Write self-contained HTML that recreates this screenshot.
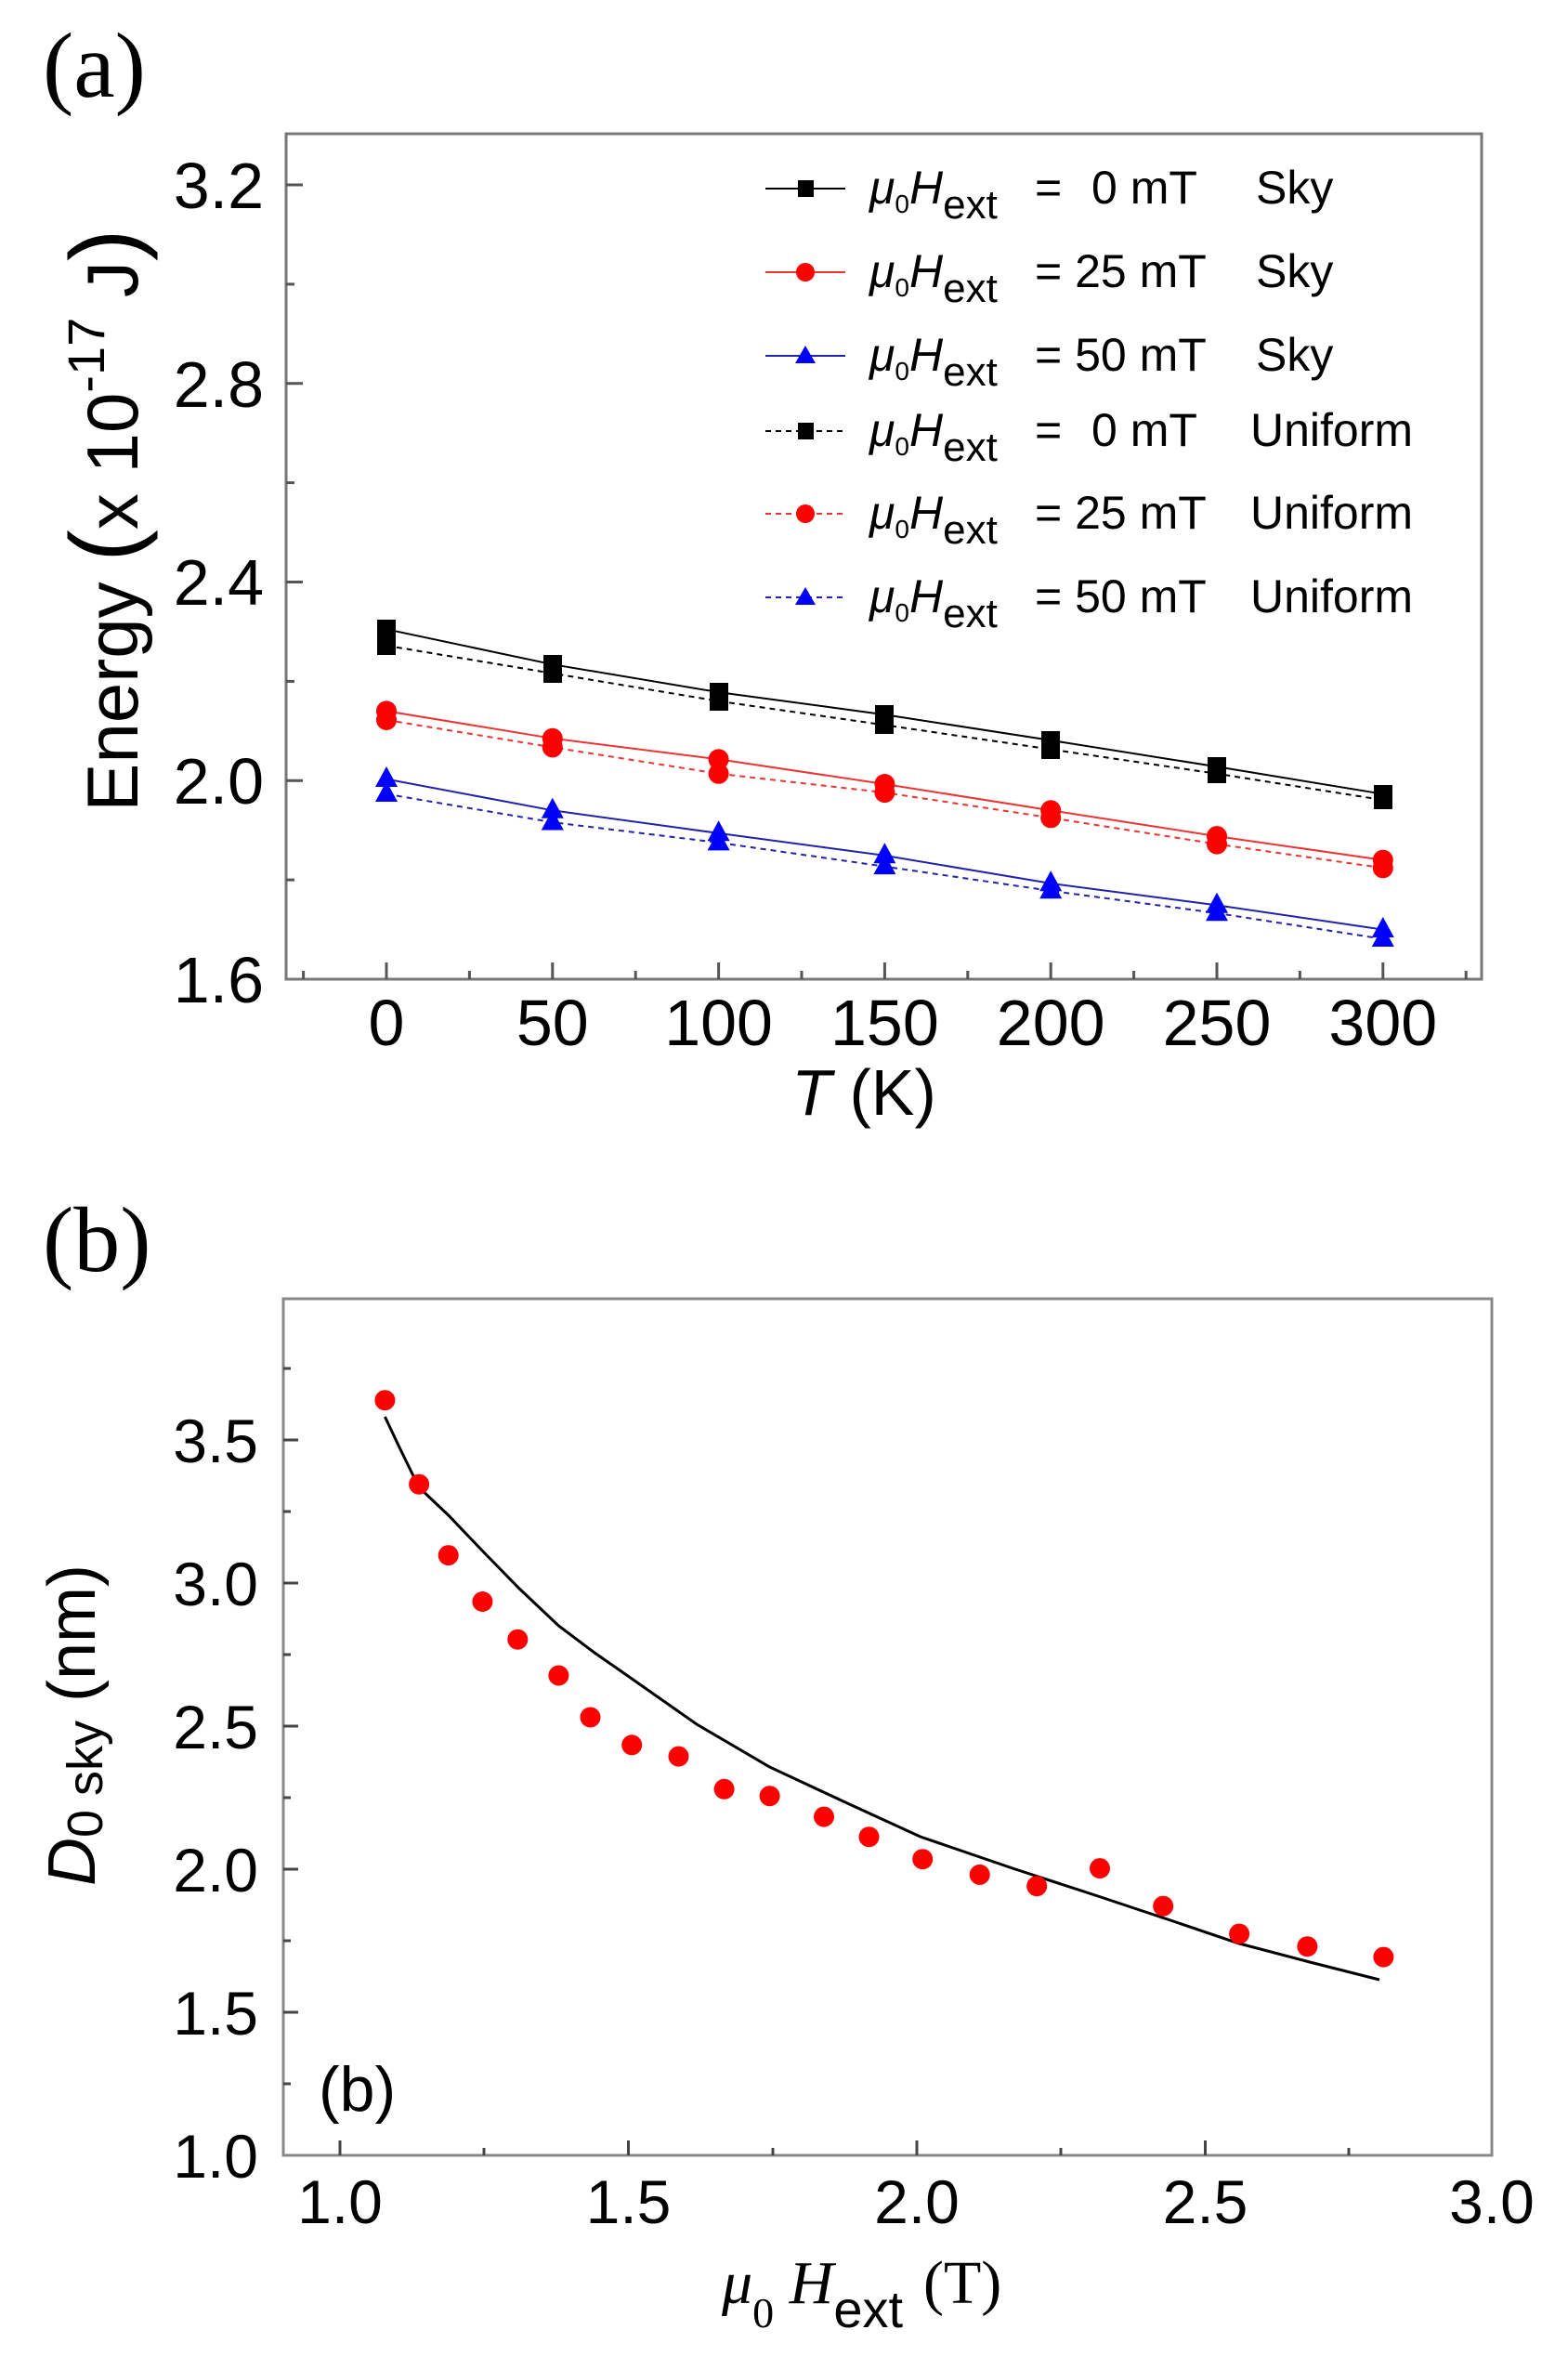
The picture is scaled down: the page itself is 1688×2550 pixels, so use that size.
<!DOCTYPE html>
<html><head><meta charset="utf-8"><style>
html,body{margin:0;padding:0;background:#fff;}
svg{display:block;}
text{font-family:"Liberation Sans",sans-serif;fill:#000;}
.serif{font-family:"Liberation Serif",serif;}
</style></head><body>
<svg width="1688" height="2550" viewBox="0 0 1688 2550" xmlns="http://www.w3.org/2000/svg">
<rect width="1688" height="2550" fill="#fff"/>
<!-- ===== Panel (a) ===== -->
<text class="serif" x="46" y="104" font-size="100">(a)</text>
<rect x="308" y="144" width="1287" height="910" fill="none" stroke="#777" stroke-width="3"/>
<g stroke="#555" stroke-width="3">
<line x1="416" y1="1054" x2="416" y2="1036"/><line x1="594.8" y1="1054" x2="594.8" y2="1036"/>
<line x1="773.6" y1="1054" x2="773.6" y2="1036"/><line x1="952.4" y1="1054" x2="952.4" y2="1036"/>
<line x1="1131.2" y1="1054" x2="1131.2" y2="1036"/><line x1="1310" y1="1054" x2="1310" y2="1036"/>
<line x1="1488.8" y1="1054" x2="1488.8" y2="1036"/>
<line x1="326.6" y1="1054" x2="326.6" y2="1045"/><line x1="505.4" y1="1054" x2="505.4" y2="1045"/>
<line x1="684.2" y1="1054" x2="684.2" y2="1045"/><line x1="863" y1="1054" x2="863" y2="1045"/>
<line x1="1041.8" y1="1054" x2="1041.8" y2="1045"/><line x1="1220.6" y1="1054" x2="1220.6" y2="1045"/>
<line x1="1399.4" y1="1054" x2="1399.4" y2="1045"/><line x1="1578.2" y1="1054" x2="1578.2" y2="1045"/>
<line x1="308" y1="199" x2="326" y2="199"/><line x1="308" y1="412.7" x2="326" y2="412.7"/>
<line x1="308" y1="626.5" x2="326" y2="626.5"/><line x1="308" y1="840.2" x2="326" y2="840.2"/>
<line x1="308" y1="305.9" x2="317" y2="305.9"/><line x1="308" y1="519.6" x2="317" y2="519.6"/>
<line x1="308" y1="733.4" x2="317" y2="733.4"/><line x1="308" y1="947.1" x2="317" y2="947.1"/>
</g>
<g font-size="70" text-anchor="end">
<text x="284" y="224">3.2</text><text x="284" y="438">2.8</text>
<text x="284" y="651">2.4</text><text x="284" y="865">2.0</text><text x="284" y="1079">1.6</text>
</g>
<g font-size="70" text-anchor="middle">
<text x="416" y="1125">0</text><text x="594.8" y="1125">50</text><text x="773.6" y="1125">100</text>
<text x="952.4" y="1125">150</text><text x="1131.2" y="1125">200</text><text x="1310" y="1125">250</text>
<text x="1488.8" y="1125">300</text>
</g>
<text x="930" y="1200" font-size="70" text-anchor="middle"><tspan font-style="italic">T</tspan> (K)</text>
<text transform="translate(148,560) rotate(-90)" text-anchor="middle" font-size="78">Energy <tspan font-size="104">(</tspan>x 10<tspan font-size="56" dy="-36">-17</tspan><tspan dy="36"> J</tspan><tspan font-size="104">)</tspan></text>

<!-- series lines -->
<g fill="none" stroke-width="2">
<polyline stroke="#000" points="416,677.3 594.8,715.2 773.6,745.1 952.4,769.2 1131.2,796.9 1310,825.3 1488.8,854.7"/>
<polyline stroke="#000" stroke-dasharray="6,5" points="416,694.9 594.8,724.8 773.6,754.7 952.4,780.4 1131.2,806.6 1310,832.8 1488.8,861.1"/>
<polyline stroke="#e33" points="416,765.4 594.8,794.8 773.6,817.3 952.4,844 1131.2,872.3 1310,900.1 1488.8,925.7"/>
<polyline stroke="#e33" stroke-dasharray="6,5" points="416,775 594.8,804.4 773.6,832.8 952.4,853.1 1131.2,880.3 1310,908.6 1488.8,934.3"/>
<polyline stroke="#22a" points="416,838.6 594.8,872.3 773.6,896.9 952.4,920.9 1131.2,950.9 1310,974.4 1488.8,1000.6"/>
<polyline stroke="#22a" stroke-dasharray="6,5" points="416,854.7 594.8,885.1 773.6,907 952.4,932.7 1131.2,958.9 1310,982.9 1488.8,1010.7"/>
</g>
<!-- markers -->
<g fill="#000">
<rect x="406" y="667" width="20" height="20"/><rect x="585" y="705" width="20" height="20"/><rect x="764" y="735" width="20" height="20"/><rect x="942" y="759" width="20" height="20"/><rect x="1121" y="787" width="20" height="20"/><rect x="1300" y="815" width="20" height="20"/><rect x="1479" y="845" width="20" height="20"/>
<rect x="406" y="685" width="20" height="20"/><rect x="585" y="715" width="20" height="20"/><rect x="764" y="745" width="20" height="20"/><rect x="942" y="770" width="20" height="20"/><rect x="1121" y="797" width="20" height="20"/><rect x="1300" y="823" width="20" height="20"/><rect x="1479" y="851" width="20" height="20"/>
</g>
<g fill="#f00">
<circle cx="416" cy="765.4" r="11"/><circle cx="594.8" cy="794.8" r="11"/><circle cx="773.6" cy="817.3" r="11"/><circle cx="952.4" cy="844" r="11"/><circle cx="1131.2" cy="872.3" r="11"/><circle cx="1310" cy="900.1" r="11"/><circle cx="1488.8" cy="925.7" r="11"/>
<circle cx="416" cy="775" r="11"/><circle cx="594.8" cy="804.4" r="11"/><circle cx="773.6" cy="832.8" r="11"/><circle cx="952.4" cy="853.1" r="11"/><circle cx="1131.2" cy="880.3" r="11"/><circle cx="1310" cy="908.6" r="11"/><circle cx="1488.8" cy="934.3" r="11"/>
</g>
<g fill="#00f">
<path d="M416,825 l12,22 h-24z M594.8,858.7 l12,22 h-24z M773.6,883.3 l12,22 h-24z M952.4,907.3 l12,22 h-24z M1131.2,937.3 l12,22 h-24z M1310,960.8 l12,22 h-24z M1488.8,987 l12,22 h-24z"/>
<path d="M416,841 l12,22 h-24z M594.8,871.5 l12,22 h-24z M773.6,893.4 l12,22 h-24z M952.4,919.1 l12,22 h-24z M1131.2,945.3 l12,22 h-24z M1310,969.3 l12,22 h-24z M1488.8,997 l12,22 h-24z"/>
</g>

<!-- legend -->
<g stroke-width="2" fill="none">
<line x1="824" y1="203" x2="910" y2="203" stroke="#000"/>
<line x1="824" y1="293" x2="910" y2="293" stroke="#e33"/>
<line x1="824" y1="383" x2="910" y2="383" stroke="#22a"/>
<line x1="824" y1="464" x2="910" y2="464" stroke="#000" stroke-dasharray="6,5"/>
<line x1="824" y1="553" x2="910" y2="553" stroke="#e33" stroke-dasharray="6,5"/>
<line x1="824" y1="643" x2="910" y2="643" stroke="#22a" stroke-dasharray="6,5"/>
</g>
<rect x="859" y="194" width="17" height="18" fill="#000"/>
<circle cx="867" cy="293" r="10" fill="#f00"/>
<path d="M867,372 l11,19 h-22z" fill="#00f"/>
<rect x="859" y="455" width="17" height="18" fill="#000"/>
<circle cx="867" cy="553" r="10" fill="#f00"/>
<path d="M867,632 l11,19 h-22z" fill="#00f"/>
<g font-size="50">
<text x="936" y="219"><tspan font-style="italic">μ</tspan><tspan font-size="28" dy="10">0</tspan><tspan font-style="italic" dy="-10">H</tspan><tspan font-size="44" dy="16">ext</tspan></text>
<text x="936" y="309"><tspan font-style="italic">μ</tspan><tspan font-size="28" dy="10">0</tspan><tspan font-style="italic" dy="-10">H</tspan><tspan font-size="44" dy="16">ext</tspan></text>
<text x="936" y="399"><tspan font-style="italic">μ</tspan><tspan font-size="28" dy="10">0</tspan><tspan font-style="italic" dy="-10">H</tspan><tspan font-size="44" dy="16">ext</tspan></text>
<text x="936" y="480"><tspan font-style="italic">μ</tspan><tspan font-size="28" dy="10">0</tspan><tspan font-style="italic" dy="-10">H</tspan><tspan font-size="44" dy="16">ext</tspan></text>
<text x="936" y="569"><tspan font-style="italic">μ</tspan><tspan font-size="28" dy="10">0</tspan><tspan font-style="italic" dy="-10">H</tspan><tspan font-size="44" dy="16">ext</tspan></text>
<text x="936" y="659"><tspan font-style="italic">μ</tspan><tspan font-size="28" dy="10">0</tspan><tspan font-style="italic" dy="-10">H</tspan><tspan font-size="44" dy="16">ext</tspan></text>
<text x="1114" y="219">=</text><text x="1175" y="219">0 mT</text><text x="1352" y="219">Sky</text>
<text x="1114" y="309">= 25 mT</text><text x="1352" y="309">Sky</text>
<text x="1114" y="399">= 50 mT</text><text x="1352" y="399">Sky</text>
<text x="1114" y="480">=</text><text x="1175" y="480">0 mT</text><text x="1346" y="480">Uniform</text>
<text x="1114" y="569">= 25 mT</text><text x="1346" y="569">Uniform</text>
<text x="1114" y="659">= 50 mT</text><text x="1346" y="659">Uniform</text>
</g>

<!-- ===== Panel (b) ===== -->
<text class="serif" x="46" y="1368" font-size="100">(b)</text>
<rect x="305" y="1398" width="1301" height="922" fill="none" stroke="#888" stroke-width="3"/>
<g stroke="#444" stroke-width="3">
<line x1="366" y1="2320" x2="366" y2="2304"/><line x1="676.5" y1="2320" x2="676.5" y2="2304"/>
<line x1="987" y1="2320" x2="987" y2="2304"/><line x1="1297.5" y1="2320" x2="1297.5" y2="2304"/>
<line x1="521" y1="2320" x2="521" y2="2312"/><line x1="832" y1="2320" x2="832" y2="2312"/>
<line x1="1142" y1="2320" x2="1142" y2="2312"/><line x1="1452" y1="2320" x2="1452" y2="2312"/>
<line x1="305" y1="2166" x2="321" y2="2166"/><line x1="305" y1="2012" x2="321" y2="2012"/>
<line x1="305" y1="1858" x2="321" y2="1858"/><line x1="305" y1="1704" x2="321" y2="1704"/>
<line x1="305" y1="1550" x2="321" y2="1550"/>
<line x1="305" y1="2243" x2="313" y2="2243"/><line x1="305" y1="2089" x2="313" y2="2089"/>
<line x1="305" y1="1935" x2="313" y2="1935"/><line x1="305" y1="1781" x2="313" y2="1781"/>
<line x1="305" y1="1627" x2="313" y2="1627"/><line x1="305" y1="1473" x2="313" y2="1473"/>
</g>
<g font-size="66" text-anchor="end">
<text x="278" y="2344">1.0</text><text x="278" y="2190">1.5</text><text x="278" y="2036">2.0</text>
<text x="278" y="1882">2.5</text><text x="278" y="1728">3.0</text><text x="278" y="1574">3.5</text>
</g>
<g font-size="66" text-anchor="middle">
<text x="366" y="2393">1.0</text><text x="676.5" y="2393">1.5</text><text x="987" y="2393">2.0</text>
<text x="1297.5" y="2393">2.5</text><text x="1606" y="2393">3.0</text>
</g>
<text x="343" y="2272" font-size="68">(b)</text>
<text transform="translate(102,1857) rotate(-90)" text-anchor="middle" font-size="72"><tspan font-style="italic">D</tspan><tspan font-size="54" dy="8">0 sky</tspan><tspan dy="-8"> (nm)</tspan></text>
<text x="777" y="2479" font-size="66" class="serif"><tspan font-style="italic">μ</tspan><tspan font-size="46" dy="26">0</tspan><tspan font-style="italic" dy="-26"> H</tspan><tspan font-family="Liberation Sans" font-size="56" dy="26">ext</tspan><tspan dy="-26" dx="22">(T)</tspan></text>

<polyline fill="none" stroke="#000" stroke-width="3" points="414.4,1525 430,1558 451,1601 482.7,1631 520,1670 559.1,1710 601.4,1750 640,1779 680.2,1807 750,1856 828.6,1902 910,1940 990.7,1977 1090,2011 1185,2042 1260,2067 1334,2092 1410,2112 1485,2131"/>
<g fill="#f00">
<circle cx="414.4" cy="1507.2" r="11"/><circle cx="451.1" cy="1597.7" r="11"/><circle cx="482.7" cy="1674.1" r="11"/>
<circle cx="519.4" cy="1724" r="11"/><circle cx="557.3" cy="1764.7" r="11"/><circle cx="601.4" cy="1803.5" r="11"/>
<circle cx="635.5" cy="1848.5" r="11"/><circle cx="680.2" cy="1878.3" r="11"/><circle cx="730.5" cy="1890.6" r="11"/>
<circle cx="779.6" cy="1925.8" r="11"/><circle cx="828.6" cy="1933.2" r="11"/><circle cx="887" cy="1955.6" r="11"/>
<circle cx="935.5" cy="1977.2" r="11"/><circle cx="993.2" cy="2001.2" r="11"/><circle cx="1054.7" cy="2017.9" r="11"/>
<circle cx="1116.2" cy="2030.2" r="11"/><circle cx="1184" cy="2011.1" r="11"/><circle cx="1252.2" cy="2051.7" r="11"/>
<circle cx="1334.1" cy="2081.6" r="11"/><circle cx="1407.4" cy="2095.2" r="11"/><circle cx="1489.4" cy="2106.6" r="11"/>
</g>
</svg>
</body></html>
